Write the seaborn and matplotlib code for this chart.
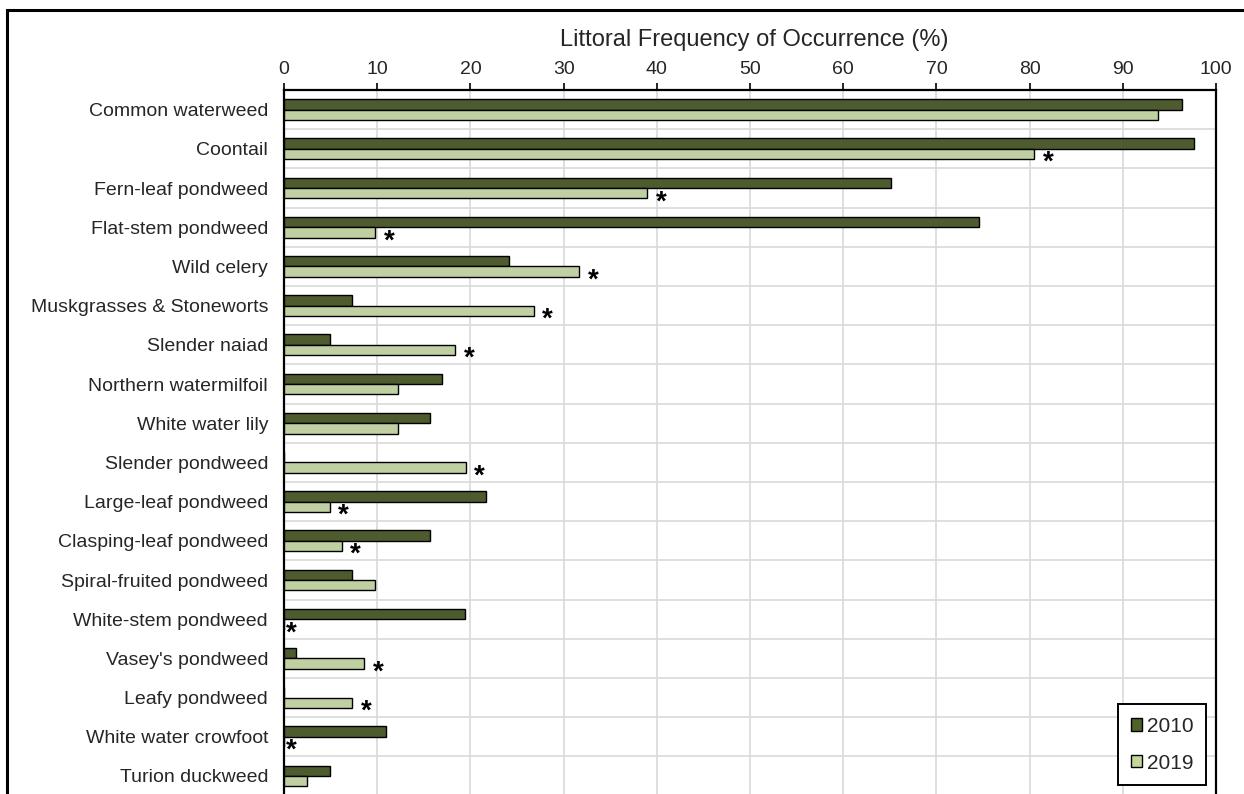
import numpy as np
import pandas as pd
import matplotlib
matplotlib.use('Agg')
import matplotlib.pyplot as plt
from matplotlib.patches import Patch, Rectangle
import seaborn as sns

# Chart data
species = ['Common waterweed', 'Coontail', 'Fern-leaf pondweed', 'Flat-stem pondweed',
           'Wild celery', 'Muskgrasses & Stoneworts', 'Slender naiad',
           'Northern watermilfoil', 'White water lily', 'Slender pondweed',
           'Large-leaf pondweed', 'Clasping-leaf pondweed', 'Spiral-fruited pondweed',
           'White-stem pondweed', "Vasey's pondweed", 'Leafy pondweed',
           'White water crowfoot', 'Turion duckweed']
freq_2010 = [96.4, 97.6, 65.1, 74.6, 24.1, 7.3, 4.9, 17.0, 15.7, 0.0,
             21.7, 15.7, 7.3, 19.4, 1.3, 0.0, 10.9, 4.9]
freq_2019 = [93.8, 80.5, 39.0, 9.8, 31.7, 26.8, 18.4, 12.2, 12.2, 19.5,
             4.9, 6.2, 9.8, 0.0, 8.6, 7.3, 0.0, 2.5]
# significant change marker
significant = [False, True, True, True, True, True, True, False, False, True,
               True, True, False, True, True, True, True, False]
years = ['2010', '2019']
x_ticks = list(range(0, 101, 10))

dark_green = '#4F6228'
light_green = '#C4D79B'

df = pd.DataFrame({
    'species': species * 2,
    'year': ['2010'] * len(species) + ['2019'] * len(species),
    'freq': freq_2010 + freq_2019,
})

sns.set_style('white')
plt.rcParams['font.family'] = ['Liberation Sans', 'DejaVu Sans']

fig = plt.figure(figsize=(12.44, 7.94), dpi=100)
ax = fig.add_axes([284 / 1244, -0.002, 932 / 1244, 0.8886])

sns.barplot(data=df, x='freq', y='species', hue='year', hue_order=years,
            order=species, orient='h', palette=[dark_green, light_green],
            width=0.53, edgecolor='black', linewidth=1.0, ax=ax, legend=False,
            zorder=3)

# significance stars next to the 2019 bars
for i, (v, s) in enumerate(zip(freq_2019, significant)):
    if s:
        xs = v + 1.5 if v > 0 else 0.8
        ax.text(xs, i + 0.36, '*', ha='center', va='center', fontsize=20,
                fontweight='bold', color='black', zorder=4)

ax.set_xlim(0, 100)
ax.set_ylim(len(species) - 0.5, -0.5)
ax.xaxis.tick_top()
ax.xaxis.set_label_position('top')
ax.set_xticks(x_ticks)
ax.set_xticklabels([str(t) for t in x_ticks], fontsize=14)
ax.set_xlabel('Littoral Frequency of Occurrence (%)', fontsize=17)
ax.xaxis.set_label_coords(0.505, 1.0 + 44 / 705.6, transform=ax.transAxes)
ax.xaxis.label.set_va('baseline')
ax.set_ylabel('')
ax.tick_params(axis='x', direction='out', length=5, width=1.2, pad=4, color='black')

# category labels centred, tick marks and gridlines at category boundaries
ax.set_yticks(range(len(species)))
ax.set_yticklabels(species, fontsize=14)
ax.set_yticks(np.arange(-0.5, len(species), 1), minor=True)
ax.tick_params(axis='y', which='major', length=0, pad=11.5)
ax.tick_params(axis='y', which='minor', direction='out', length=6, width=1.2, color='black')
ax.grid(axis='x', which='major', color='#D9D9D9', linewidth=1.2, zorder=0)
ax.grid(axis='y', which='minor', color='#D9D9D9', linewidth=1.2, zorder=0)
ax.set_axisbelow(True)

for side in ['top', 'left', 'right']:
    ax.spines[side].set_visible(True)
    ax.spines[side].set_color('black')
    ax.spines[side].set_linewidth(1.6)
ax.spines['bottom'].set_visible(False)

handles = [Patch(facecolor=dark_green, edgecolor='black', label='2010'),
           Patch(facecolor=light_green, edgecolor='black', label='2019')]
leg = ax.legend(handles=handles, loc='lower right', bbox_to_anchor=(0.989, 0.015),
                borderaxespad=0, fontsize=15, handlelength=0.55, handleheight=0.55,
                handletextpad=0.2, labelspacing=0.85, fancybox=False,
                edgecolor='black', framealpha=1, borderpad=0.6)
leg.get_frame().set_linewidth(1.4)

# outer chart border
fig.patches.append(Rectangle((7 / 1244, -0.05), 1.1, 1 - 10 / 794 + 0.05,
                             transform=fig.transFigure, fill=False,
                             edgecolor='black', linewidth=2.2))

fig.savefig('out.png', dpi=100)
